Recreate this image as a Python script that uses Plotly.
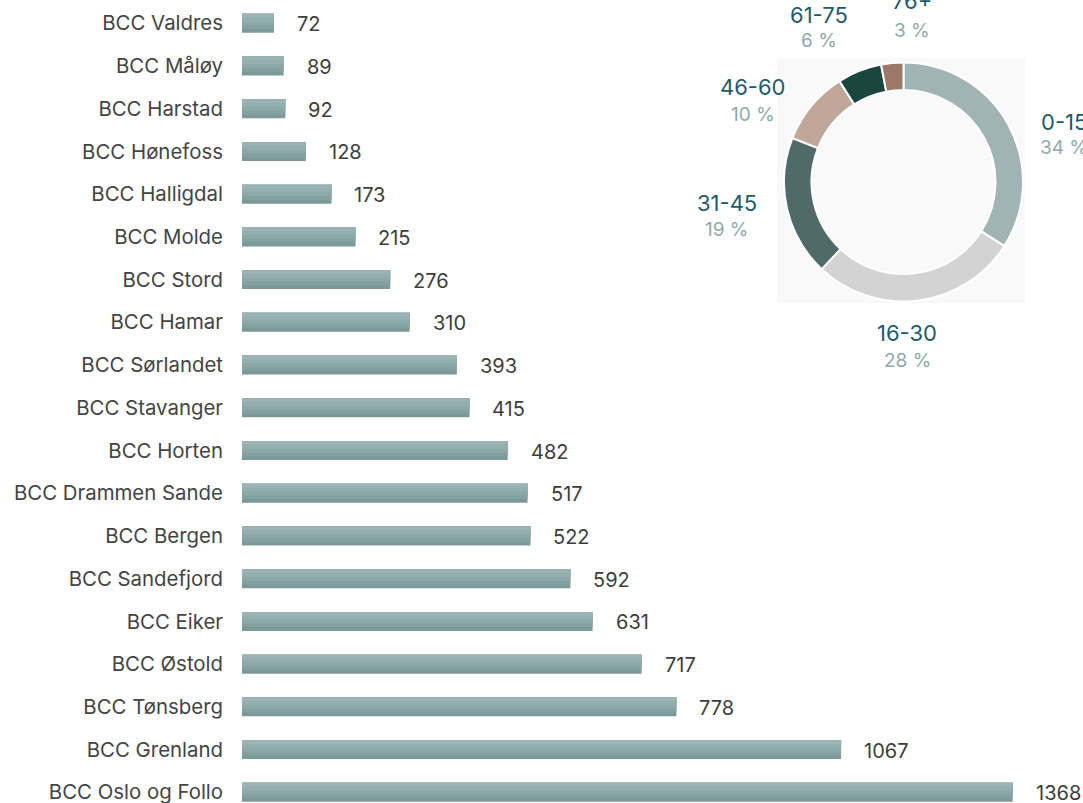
import plotly.graph_objects as go

# ---- data ----
centres = ["BCC Valdres", "BCC Måløy", "BCC Harstad", "BCC Hønefoss", "BCC Halligdal",
           "BCC Molde", "BCC Stord", "BCC Hamar", "BCC Sørlandet", "BCC Stavanger",
           "BCC Horten", "BCC Drammen Sande", "BCC Bergen", "BCC Sandefjord", "BCC Eiker",
           "BCC Østold", "BCC Tønsberg", "BCC Grenland", "BCC Oslo og Follo"]
members = [72, 89, 92, 128, 173, 215, 276, 310, 393, 415, 482, 517, 522, 592, 631,
           717, 778, 1067, 1368]

age_groups = ["0-15", "16-30", "31-45", "46-60", "61-75", "76+"]
age_share = [34, 28, 19, 10, 6, 3]
age_colors = ["#a0b3b5", "#d3d3d3", "#4f6a69", "#c1a69a", "#1b463f", "#9b7869"]

# ---- layout constants ----
FONT = "Inter"
W, H = 1083, 803
L = 242
PW = W - L
BAR_W = 0.444
# from bottom (darkest, full height) to top (lightest, thin top strip)
band_colors = ["#7c9999", "#84a1a1", "#8ca8a8", "#93aeae", "#9ab3b3"]
# label centres (pixels) for the donut labels: (x, y_label, y_percent)
label_pos = [(1064, 122, 148), (907, 333, 360), (727, 203, 229),
             (753, 87, 114), (819, 15, 41), (912, 1, 30)]


def px2x(px):
    return (px - L) / PW


def px2y(py):
    return (H - py) / H


fig = go.Figure()

nb = len(band_colors)
for i, col in enumerate(band_colors):
    w = BAR_W * (nb - i) / nb
    fig.add_trace(go.Bar(
        x=members, y=centres, orientation="h",
        width=w, offset=-BAR_W / 2,
        marker=dict(color=col, line=dict(width=0)),
        hoverinfo="x+y" if i == 0 else "skip", showlegend=False,
    ))

for c, v in zip(centres, members):
    fig.add_annotation(x=v, y=c, text=str(v), showarrow=False, xanchor="left",
                       xshift=21, yshift=-1,
                       font=dict(family=FONT, size=20, color="#3d3d3d"))

fig.add_trace(go.Pie(
    labels=age_groups, values=age_share, sort=False, direction="clockwise",
    rotation=0, hole=0.77,
    marker=dict(colors=age_colors, line=dict(color="white", width=2)),
    textinfo="none", automargin=False,
    domain=dict(x=[px2x(784), px2x(1023)], y=[px2y(301.5), px2y(62.5)]),
    showlegend=False,
))

for g, s, (lx, ly, py) in zip(age_groups, age_share, label_pos):
    fig.add_annotation(xref="paper", yref="paper", x=px2x(lx), y=px2y(ly),
                       text=g, showarrow=False, xanchor="center", yanchor="middle",
                       font=dict(family=FONT, size=22, color="#1f5a6b"))
    fig.add_annotation(xref="paper", yref="paper", x=px2x(lx), y=px2y(py),
                       text=f"{s} %", showarrow=False, xanchor="center", yanchor="middle",
                       font=dict(family=FONT, size=19, color="#8eaaaa"))

fig.add_shape(type="rect", xref="paper", yref="paper", layer="below",
              x0=px2x(777), x1=px2x(1025), y0=px2y(303), y1=px2y(58),
              fillcolor="#f9f9f9", line=dict(width=0))

fig.update_layout(
    width=W, height=H,
    margin=dict(l=L, r=0, t=0, b=0, pad=0),
    paper_bgcolor="white", plot_bgcolor="white",
    font=dict(family=FONT, size=20, color="#444444"),
    barmode="overlay",
    xaxis=dict(range=[16, 16 + PW / 0.570], showgrid=False, zeroline=False,
               showticklabels=False, showline=False, ticks="", automargin=False),
    yaxis=dict(categoryorder="array", categoryarray=centres,
               range=[18.25, -0.545], showgrid=False, zeroline=False, showline=False,
               ticks="", ticklabelstandoff=18, automargin=False,
               tickfont=dict(family=FONT, size=20.4, color="#444444")),
)

fig.write_html("out.html", config={"displayModeBar": False},
               post_script="document.body.style.margin='0';"
               "document.body.style.overflow='hidden';")
